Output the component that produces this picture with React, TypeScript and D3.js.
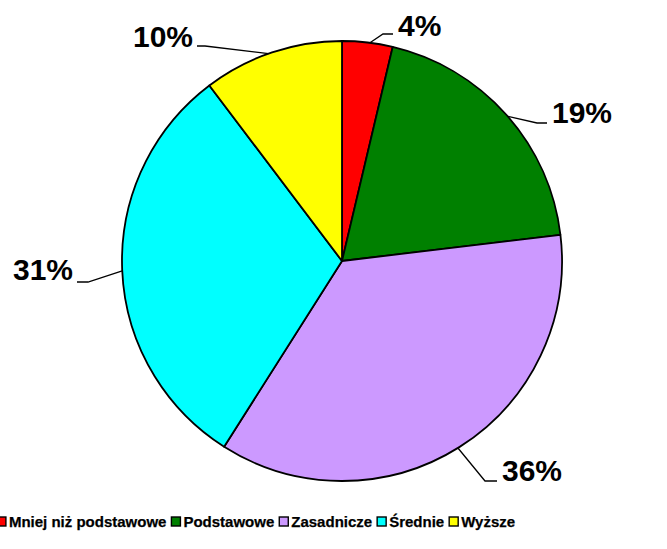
import React, { useEffect, useRef } from "react";
import * as d3 from "d3";

const categories = ["Mniej niż podstawowe", "Podstawowe", "Zasadnicze", "Średnie", "Wyższe"];
const shares = [3.7, 19.4, 35.9, 30.7, 10.3];
const percentLabels = ["4%", "19%", "36%", "31%", "10%"];
const colors = ["#FF0000", "#008000", "#CC99FF", "#00FFFF", "#FFFF00"];

// leader layout: angle (deg) where the line touches the pie, elbow, end of line, label side
const leaders = [
  { angle: 7.3, elbow: [383, 34], end: [393, 34], side: "right", dy: 2 },
  { angle: 48.9, elbow: [537, 123], end: [547, 123], side: "right", dy: 0 },
  { angle: 148.2, elbow: [485, 481], end: [497, 481], side: "right", dy: 0 },
  { angle: 267.4, elbow: [88, 282], end: [77, 282], side: "left", dy: -2 },
  { angle: 340.5, elbow: [205, 46], end: [197, 46], side: "left", dy: 1 },
];

const W = 667;
const H = 549;
const cx = 342;
const cy = 261;
const R = 220;

const App = () => {
  const ref = useRef(null);

  useEffect(() => {
    document.body.style.margin = "0";
    const svg = d3.select(ref.current);
    svg.selectAll("*").remove();

    const pie = d3.pie().value(d => d).sort(null);
    const arc = d3.arc().innerRadius(0).outerRadius(R);
    const arcs = pie(shares);

    const g = svg.append("g").attr("transform", `translate(${cx},${cy})`);
    g.selectAll("path")
      .data(arcs)
      .enter()
      .append("path")
      .attr("d", arc)
      .attr("fill", (d, i) => colors[i])
      .attr("stroke", "#000")
      .attr("stroke-width", 1.8)
      .attr("stroke-linejoin", "round");

    // leader lines + labels
    leaders.forEach((l, i) => {
      const a = (l.angle * Math.PI) / 180;
      const px = cx + R * Math.sin(a);
      const py = cy - R * Math.cos(a);
      svg.append("polyline")
        .attr("points", `${px},${py} ${l.elbow[0]},${l.elbow[1]} ${l.end[0]},${l.end[1]}`)
        .attr("fill", "none")
        .attr("stroke", "#000")
        .attr("stroke-width", 1.3);
      svg.append("text")
        .attr("x", l.side === "right" ? l.end[0] + 5 : l.end[0] - 4)
        .attr("y", l.end[1] + l.dy)
        .attr("text-anchor", l.side === "right" ? "start" : "end")
        .attr("font-family", "Liberation Sans, Arial, sans-serif")
        .attr("font-weight", "bold")
        .attr("font-size", 30)
        .text(percentLabels[i]);
    });

    // legend
    const legend = svg.append("g");
    let x = 0;
    categories.forEach((c, i) => {
      legend.append("rect")
        .attr("x", x)
        .attr("y", -10)
        .attr("width", 9)
        .attr("height", 9)
        .attr("fill", colors[i])
        .attr("stroke", "#000")
        .attr("stroke-width", 1.4);
      const t = legend.append("text")
        .attr("x", x + 12)
        .attr("y", 0)
        .attr("font-family", "Liberation Sans, Arial, sans-serif")
        .attr("font-weight", "bold")
        .attr("font-size", 15)
        .attr("stroke", "#000")
        .attr("stroke-width", 0.25)
        .text(c);
      x += 12 + t.node().getComputedTextLength() + 5;
    });
    const total = x - 5;
    legend.attr("transform", `translate(${256 - total / 2},527)`);
  }, []);

  return <svg ref={ref} width={W} height={H} style={{ display: "block", background: "#fff" }} />;
};

export default App;
